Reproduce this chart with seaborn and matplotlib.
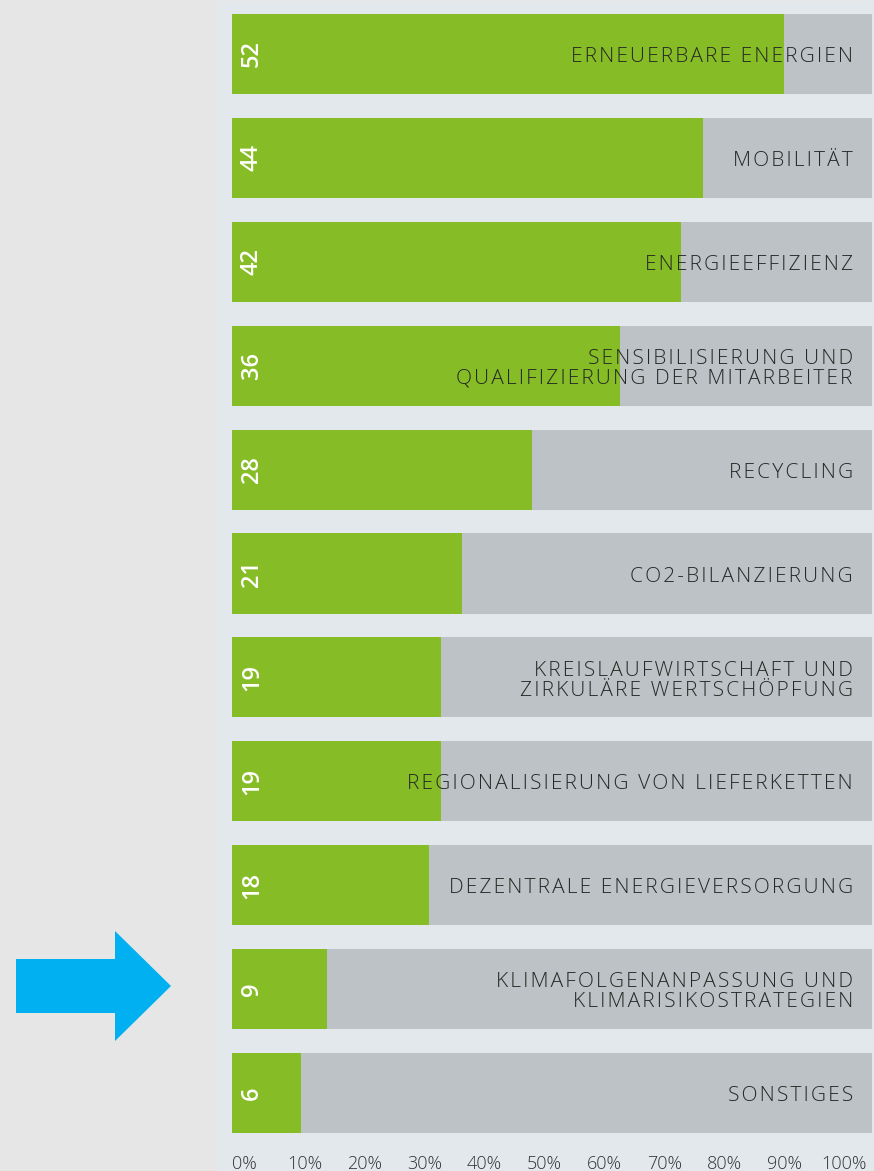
import pandas as pd
import seaborn as sns
import matplotlib.pyplot as plt
from matplotlib.patches import Polygon, Rectangle

# data (count of mentions, bar length in %)
categories = [
    "ERNEUERBARE ENERGIEN",
    "MOBILITÄT",
    "ENERGIEEFFIZIENZ",
    "SENSIBILISIERUNG UND\nQUALIFIZIERUNG DER MITARBEITER",
    "RECYCLING",
    "CO2-BILANZIERUNG",
    "KREISLAUFWIRTSCHAFT UND\nZIRKULÄRE WERTSCHÖPFUNG",
    "REGIONALISIERUNG VON LIEFERKETTEN",
    "DEZENTRALE ENERGIEVERSORGUNG",
    "KLIMAFOLGENANPASSUNG UND\nKLIMARISIKOSTRATEGIEN",
    "SONSTIGES",
]
counts = [52, 44, 42, 36, 28, 21, 19, 19, 18, 9, 6]
shares = [86.3, 73.6, 70.2, 60.7, 46.9, 35.9, 32.7, 32.7, 30.8, 14.9, 10.8]
full = [100] * len(categories)
tick_labels = ["0%", "10%", "20%", "30%", "40%", "50%", "60%", "70%", "80%", "90%", "100%"]

df = pd.DataFrame({"cat": categories, "count": counts, "share": shares, "full": full})

GREEN = "#86bc25"
GREY = "#bcc2c5"
TEXT = "#252825"


def tracked(s):
    # fake letter spacing with hair spaces
    return "\n".join("\u200a".join(line) for line in s.split("\n"))


sns.set_style("white")
plt.rcParams["font.family"] = ["Open Sans", "DejaVu Sans"]

fig = plt.figure(figsize=(8.74, 11.71), dpi=100)
fig.patch.set_facecolor("#e6e6e6")
W, H = 874, 1171

# light panel behind the chart
fig.patches.append(Rectangle((217 / W, 0), (W - 217) / W, 1 - 1 / H,
                             transform=fig.transFigure, facecolor="#e3e8ec",
                             edgecolor="none", zorder=-5))

ax = fig.add_axes([232 / W, 26 / H, 640 / W, 1143 / H])
ax.set_facecolor("none")
ax.set_zorder(2)

sns.barplot(data=df, y="cat", x="full", orient="h", color=GREY, width=0.77,
            saturation=1, linewidth=0, edgecolor="none", ax=ax)
sns.barplot(data=df, y="cat", x="share", orient="h", color=GREEN, width=0.77,
            saturation=1, linewidth=0, edgecolor="none", ax=ax)

ax.set_xlim(0, 100)
ax.set_ylim(10.5, -0.5)

for i, row in df.iterrows():
    ax.text(97, i + 0.03, tracked(row["cat"]), ha="right", va="center", ma="right",
            fontsize=15, fontweight="light", color=TEXT, linespacing=1.0)
    ax.text(3.1, i, str(row["count"]), ha="center", va="center", rotation=90,
            fontsize=17, fontweight="semibold", color="white")

# tick labels sit slightly inside the ends of the scale
ax.set_xticks([1.95 + 9.37 * k for k in range(11)])
ax.set_xticklabels(tick_labels, fontsize=13, fontweight="light", color="#333333")
ax.tick_params(axis="x", length=0, pad=7)
ax.set_yticks([])
ax.set_xlabel("")
ax.set_ylabel("")
sns.despine(ax=ax, left=True, bottom=True)

# blue arrow pointing at the highlighted row
arrow = [(16, 959), (115, 959), (115, 931), (171, 986), (115, 1041), (115, 1013), (16, 1013)]
fig.patches.append(Polygon([(x / W, 1 - y / H) for x, y in arrow], closed=True,
                           transform=fig.transFigure, facecolor="#00b0f0",
                           edgecolor="none", zorder=5))

fig.savefig("out.png", dpi=100, facecolor=fig.get_facecolor())
